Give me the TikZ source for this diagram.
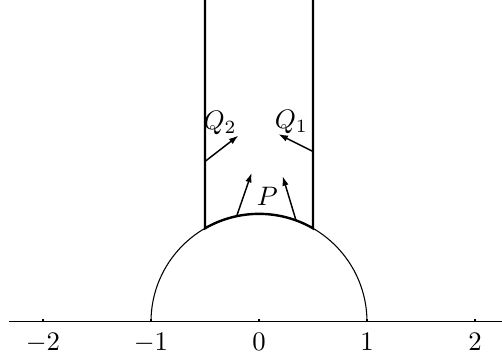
\documentclass[tikz,border=0pt]{standalone}
\usepackage{amsmath, amsfonts, amssymb}
\usepackage{tikz}
\usetikzlibrary{arrows.meta,calc}

\begin{document}
\begin{tikzpicture}[x=1.42cm,y=1.42cm,
    bord/.style={line width=0.9pt},
    fleche/.style={line width=0.55pt,-{Latex[length=3.6pt,width=2.4pt]}}]
  \useasboundingbox (-2.398,-0.306) rectangle (2.25,2.98);

  % Axe reel
  \draw[line width=0.4pt] (-2.315,0)--(2.25,0);
  \foreach \x/\t in {-2/$-2$,-1/$-1$,0/$0$,1/$1$,2/$2$} {
    \draw[line width=0.4pt] (\x,0)--(\x,0.03);
    \node[below,inner sep=4pt] (lab\x) at (\x,0) {\t};
  }

  % Demi-cercle unite
  \draw[line width=0.4pt] (1,0) arc (0:180:1);

  % Domaine fondamental
  \coordinate (A) at (120:1);
  \coordinate (B) at (60:1);
  \draw[bord] (-0.5,2.98)--(A) arc (120:60:1)--(-0.5,2.98 -| B);

  % Vecteurs tangents
  \coordinate (p1) at (-0.207,0.978);
  \coordinate (p1b) at (-0.068,1.38);
  \coordinate (p2) at (0.343,0.939);
  \coordinate (p2b) at (0.219,1.35);
  \coordinate (q2) at (-0.5,1.485);
  \coordinate (q2b) at (-0.19,1.725);
  \coordinate (q1) at (0.5,1.577);
  \coordinate (q1b) at (0.179,1.738);
  \draw[fleche] (p1)--(p1b);
  \draw[fleche] (p2)--(p2b);
  \draw[fleche] (q2)--(q2b);
  \draw[fleche] (q1)--(q1b);

  % Etiquettes
  \node (P) at (0.077,1.16) {$P$};
  \node (Q2) at (-0.36,1.84) {$Q_2$};
  \node (Q1) at (0.30,1.855) {$Q_1$};
\end{tikzpicture}
\end{document}
